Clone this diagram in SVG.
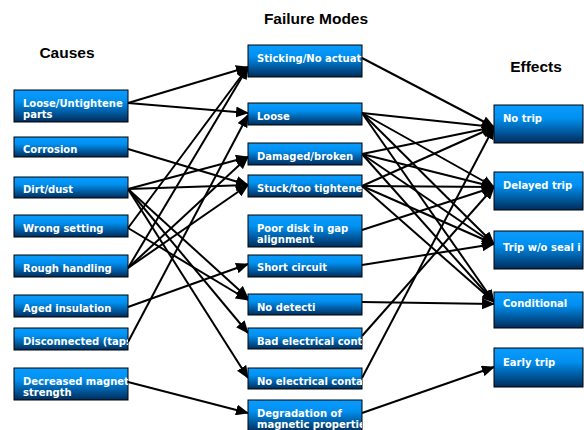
<svg xmlns="http://www.w3.org/2000/svg" width="584" height="430" viewBox="0 0 584 430">
<defs>
<linearGradient id="g" x1="0" y1="0" x2="0" y2="1">
<stop offset="0" stop-color="#0a9cff"/>
<stop offset="0.35" stop-color="#0090f0"/>
<stop offset="1" stop-color="#002c5a"/>
</linearGradient>
<marker id="ah" markerUnits="userSpaceOnUse" markerWidth="13" markerHeight="11" refX="12" refY="5.5" orient="auto">
<path d="M0,0 L13,5.5 L0,11 Z" fill="#000"/>
</marker>
<clipPath id="cl"><rect x="0" y="0" width="128" height="430"/></clipPath>
<clipPath id="cm"><rect x="248" y="0" width="114" height="430"/></clipPath>
</defs>
<style>
.b{fill:url(#g);stroke:#000;stroke-width:1}
.t{fill:#fff;font-family:"DejaVu Sans",sans-serif;font-weight:bold;font-size:10px}
.h{fill:#000;font-family:"Liberation Sans",Arial,sans-serif;font-weight:bold;font-size:15.5px}
.c line{stroke:#000;stroke-width:2;marker-end:url(#ah)}
</style>
<rect width="584" height="430" fill="#fff"/>
<text class="h" x="316" y="24" text-anchor="middle">Failure Modes</text>
<text class="h" x="67" y="58" text-anchor="middle">Causes</text>
<text class="h" x="536" y="72" text-anchor="middle">Effects</text>

<g id="connectors" class="c">
<line x1="128" y1="103" x2="248" y2="67"/>
<line x1="128" y1="103" x2="248" y2="113"/>
<line x1="128" y1="149" x2="248" y2="185"/>
<line x1="128" y1="189" x2="248" y2="157"/>
<line x1="128" y1="189" x2="248" y2="185"/>
<line x1="128" y1="189" x2="248" y2="298"/>
<line x1="128" y1="189" x2="248" y2="333"/>
<line x1="128" y1="189" x2="248" y2="378"/>
<line x1="128" y1="228" x2="248" y2="67"/>
<line x1="128" y1="228" x2="248" y2="300"/>
<line x1="128" y1="268" x2="248" y2="67"/>
<line x1="128" y1="268" x2="248" y2="157"/>
<line x1="128" y1="268" x2="248" y2="185"/>
<line x1="128" y1="307" x2="248" y2="264"/>
<line x1="128" y1="342" x2="248" y2="115"/>
<line x1="128" y1="382" x2="248" y2="413"/>
<line x1="362" y1="58" x2="494" y2="127"/>
<line x1="362" y1="113" x2="494" y2="127"/>
<line x1="362" y1="113" x2="494" y2="187"/>
<line x1="362" y1="113" x2="494" y2="244"/>
<line x1="362" y1="113" x2="494" y2="302"/>
<line x1="362" y1="154" x2="494" y2="127"/>
<line x1="362" y1="154" x2="494" y2="187"/>
<line x1="362" y1="154" x2="494" y2="244"/>
<line x1="362" y1="154" x2="494" y2="302"/>
<line x1="362" y1="186" x2="494" y2="127"/>
<line x1="362" y1="186" x2="494" y2="187"/>
<line x1="362" y1="186" x2="494" y2="244"/>
<line x1="362" y1="186" x2="494" y2="302"/>
<line x1="362" y1="230" x2="494" y2="187"/>
<line x1="362" y1="265" x2="494" y2="244"/>
<line x1="362" y1="302" x2="494" y2="304"/>
<line x1="362" y1="336" x2="494" y2="187"/>
<line x1="362" y1="378" x2="494" y2="127"/>
<line x1="362" y1="413" x2="494" y2="367"/>
</g>

<g id="c1"><rect class="b" x="14" y="90" width="114" height="32"/><text class="t" clip-path="url(#cl)" x="23" y="107">Loose/Untightene<tspan x="23" y="118">parts</tspan></text></g>
<g id="c2"><rect class="b" x="14" y="137" width="114" height="20"/><text class="t" x="23" y="153">Corrosion</text></g>
<g id="c3"><rect class="b" x="14" y="177" width="114" height="21"/><text class="t" x="23" y="193">Dirt/dust</text></g>
<g id="c4"><rect class="b" x="14" y="215" width="114" height="22"/><text class="t" x="23" y="232">Wrong setting</text></g>
<g id="c5"><rect class="b" x="14" y="255" width="114" height="22"/><text class="t" x="23" y="272">Rough handling</text></g>
<g id="c6"><rect class="b" x="14" y="295" width="114" height="22"/><text class="t" x="23" y="312">Aged insulation</text></g>
<g id="c7"><rect class="b" x="14" y="328" width="114" height="22"/><text class="t" clip-path="url(#cl)" x="23" y="345">Disconnected (taps</text></g>
<g id="c8"><rect class="b" x="14" y="368" width="114" height="32"/><text class="t" clip-path="url(#cl)" x="23" y="385">Decreased magneti<tspan x="23" y="396">strength</tspan></text></g>

<g id="m1"><rect class="b" x="248" y="45" width="114" height="32"/><text class="t" clip-path="url(#cm)" x="257" y="62">Sticking/No actuat</text></g>
<g id="m2"><rect class="b" x="248" y="103" width="114" height="22"/><text class="t" x="257" y="120">Loose</text></g>
<g id="m3"><rect class="b" x="248" y="143" width="114" height="22"/><text class="t" x="257" y="160">Damaged/broken</text></g>
<g id="m4"><rect class="b" x="248" y="175" width="114" height="22"/><text class="t" clip-path="url(#cm)" x="257" y="192">Stuck/too tightene</text></g>
<g id="m5"><rect class="b" x="248" y="215" width="114" height="32"/><text class="t" x="257" y="232">Poor disk in gap<tspan x="257" y="243">alignment</tspan></text></g>
<g id="m6"><rect class="b" x="248" y="255" width="114" height="22"/><text class="t" x="257" y="271">Short circuit</text></g>
<g id="m7"><rect class="b" x="248" y="294" width="114" height="21"/><text class="t" x="257" y="311">No detecti</text></g>
<g id="m8"><rect class="b" x="248" y="328" width="114" height="21"/><text class="t" clip-path="url(#cm)" x="257" y="345">Bad electrical conta</text></g>
<g id="m9"><rect class="b" x="248" y="368" width="114" height="21"/><text class="t" clip-path="url(#cm)" x="257" y="385">No electrical contac</text></g>
<g id="m10"><rect class="b" x="248" y="400" width="114" height="32"/><text class="t" clip-path="url(#cm)" x="257" y="417">Degradation of<tspan x="257" y="428">magnetic propertie</tspan></text></g>

<g id="e1"><rect class="b" x="494" y="105" width="89" height="38"/><text class="t" x="503" y="122">No trip</text></g>
<g id="e2"><rect class="b" x="494" y="172" width="89" height="38"/><text class="t" x="503" y="189">Delayed trip</text></g>
<g id="e3"><rect class="b" x="494" y="231" width="89" height="38"/><text class="t" x="503" y="251">Trip w/o seal i</text></g>
<g id="e4"><rect class="b" x="494" y="292" width="89" height="36"/><text class="t" x="503" y="307">Conditional</text></g>
<g id="e5"><rect class="b" x="494" y="348" width="89" height="39"/><text class="t" x="503" y="366">Early trip</text></g>
</svg>
